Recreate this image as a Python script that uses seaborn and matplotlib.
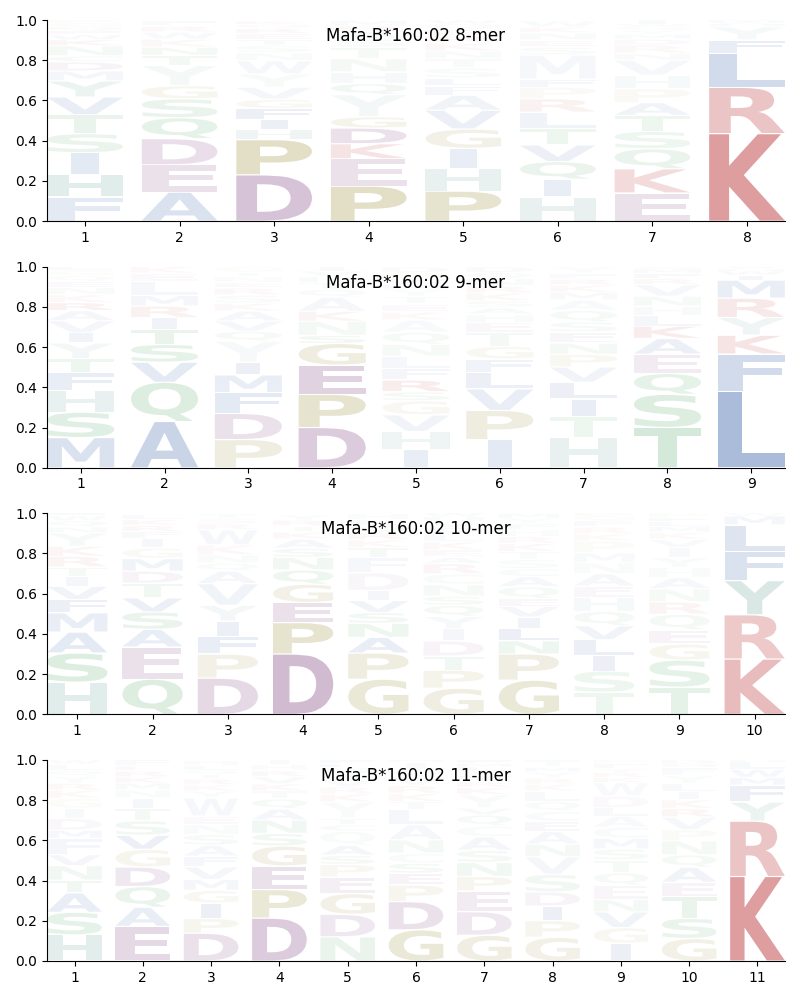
import numpy as np
import matplotlib
matplotlib.use("Agg")
import matplotlib.pyplot as plt
import seaborn as sns
from matplotlib.textpath import TextPath
from matplotlib.patches import PathPatch
from matplotlib.font_manager import FontProperties
from matplotlib.transforms import Affine2D

# ---------------- data (letters listed bottom -> top) ----------------
titles = ["Mafa-B*160:02 8-mer", "Mafa-B*160:02 9-mer",
          "Mafa-B*160:02 10-mer", "Mafa-B*160:02 11-mer"]

letters_8 = ["FHISTVYMDCNKWEQGP", "AEDQSGYTNKWRF", "DPHIFGVYWNSTERQK",
             "PEKDGYQHNTSARM", "PHIGVAFLSTNKREQW", "HIQVTLRPFMSENKW",
             "EKQSTAPHVNRDMYGWI", "KRLFYHWM"]
heights_8 = [
    [.12, .11, .11, .095, .094, .088, .08, .05, .045, .03, .05, .03, .025, .02, .02, .018, .015],
    [.144, .136, .13, .104, .094, .066, .1, .05, .041, .04, .035, .03, .03],
    [.23, .175, .05, .05, .055, .046, .06, .066, .066, .04, .035, .03, .03, .025, .02, .017],
    [.174, .136, .075, .078, .056, .11, .055, .058, .066, .058, .04, .035, .03, .029],
    [.149, .113, .1, .096, .093, .075, .046, .04, .05, .045, .04, .04, .035, .03, .03, .018],
    [.12, .088, .088, .083, .08, .083, .066, .058, .04, .12, .04, .035, .035, .03, .03],
    [.14, .12, .1, .086, .08, .063, .07, .066, .075, .035, .04, .03, .025, .02, .02, .01, .02],
    [.435, .23, .17, .066, .066, .015, .01, .008],
]
alpha_8 = [
    [.15, .2, .15, .12, .12, .12, .12, .06, .08, .05, .06, .05, .04, .04, .04, .03, .03],
    [.2, .2, .22, .15, .12, .1, .07, .07, .06, .04, .04, .04, .03],
    [.4, .35, .1, .1, .1, .08, .06, .05, .05, .04, .04, .04, .04, .04, .03, .03],
    [.35, .2, .15, .2, .12, .08, .08, .06, .06, .05, .04, .04, .04, .03],
    [.3, .15, .12, .15, .1, .08, .06, .05, .04, .04, .04, .04, .04, .03, .03, .03],
    [.15, .12, .12, .1, .1, .08, .08, .06, .05, .05, .04, .04, .04, .03, .03],
    [.2, .2, .12, .1, .1, .08, .06, .06, .05, .04, .04, .04, .03, .03, .03, .03, .03],
    [.55, .33, .25, .12, .06, .04, .03, .03],
]

letters_9 = ["MSHFTYIVARKNEQGL", "AQVSTIRMLEK", "PDFMIYQVAKSRENTG",
             "DPEGSNKAQTHVI", "IHVGSRFLNQAKETYMWPD", "IPVLFGTEHASKRNQD",
             "HTILVPNESQAMKRFY", "TSQEAKLHNVRFMG", "LFKYRMIWHV"]
heights_9 = [
    [.15, .126, .107, .09, .07, .078, .05, .06, .05, .04, .04, .035, .03, .03, .025, .019],
    [.23, .195, .1, .088, .075, .058, .058, .053, .07, .04, .033],
    [.14, .13, .104, .088, .063, .104, .05, .05, .05, .04, .04, .035, .03, .025, .024, .027],
    [.2, .165, .145, .108, .04, .07, .05, .07, .04, .035, .03, .025, .02],
    [.09, .09, .083, .07, .045, .058, .058, .06, .06, .06, .06, .04, .04, .04, .035, .02, .03, .03, .03],
    [.14, .145, .107, .083, .066, .063, .07, .05, .04, .033, .033, .04, .035, .035, .03, .03],
    [.15, .104, .088, .083, .076, .063, .056, .055, .05, .058, .05, .04, .035, .03, .03, .032],
    [.2, .165, .104, .096, .078, .061, .053, .046, .05, .058, .03, .025, .023, .011],
    [.38, .185, .094, .088, .096, .09, .025, .02, .012, .01],
]
alpha_9 = [
    [.2, .18, .15, .12, .1, .08, .08, .06, .06, .08, .04, .04, .04, .03, .03, .03],
    [.3, .2, .15, .15, .12, .08, .08, .06, .05, .04, .04],
    [.2, .2, .15, .12, .1, .06, .05, .05, .05, .04, .04, .04, .04, .03, .03, .03],
    [.35, .3, .3, .2, .08, .06, .06, .05, .04, .04, .04, .03, .03],
    [.12, .1, .08, .08, .06, .1, .06, .05, .05, .05, .04, .04, .04, .04, .03, .03, .03, .03, .03],
    [.15, .2, .12, .1, .08, .08, .06, .05, .04, .04, .04, .04, .04, .04, .03, .03],
    [.15, .1, .12, .1, .08, .08, .06, .06, .05, .05, .04, .04, .04, .04, .03, .03],
    [.25, .2, .15, .12, .1, .1, .06, .05, .05, .05, .04, .04, .03, .03],
    [.47, .25, .15, .1, .12, .12, .06, .04, .03, .03],
]

letters_10 = ["HSAMFVITRKYNQWE", "QEASVTDMGIFRKL", "DPFIYVAQNKWRST",
              "DPEGQNSAKTRY", "GPANSVIDFTKRQLH", "GPTDIYQSNCRAEKLFVHW",
              "GPNLIVEQACSTKRHFYM", "TSILVQHEANMPKRFGD", "TSGEQRNAHYIVKMLFP",
              "KRYFLMW"]
heights_10 = [
    [.16, .145, .104, .096, .066, .066, .05, .046, .053, .05, .066, .03, .03, .026, .012],
    [.175, .16, .088, .086, .07, .073, .06, .063, .053, .046, .035, .03, .03, .025],
    [.18, .12, .086, .078, .078, .108, .063, .04, .04, .05, .075, .03, .025, .023],
    [.3, .156, .1, .091, .071, .063, .045, .046, .035, .03, .03, .025],
    [.175, .13, .078, .07, .053, .06, .05, .088, .075, .05, .04, .035, .035, .03, .03],
    [.13, .09, .07, .075, .061, .061, .055, .046, .058, .053, .05, .033, .036, .04, .035, .035, .03, .025, .02],
    [.17, .13, .066, .06, .058, .053, .038, .06, .05, .04, .045, .04, .04, .035, .035, .03, .025, .025],
    [.11, .105, .078, .078, .07, .071, .071, .055, .061, .055, .05, .058, .035, .035, .03, .027, .011],
    [.135, .135, .08, .07, .078, .061, .066, .055, .05, .05, .05, .04, .035, .03, .025, .02, .02],
    [.275, .22, .17, .146, .13, .046, .013],
]
alpha_10 = [
    [.2, .2, .15, .12, .1, .08, .06, .05, .06, .05, .06, .04, .04, .03, .03],
    [.2, .2, .12, .12, .1, .08, .08, .08, .06, .05, .04, .04, .04, .03],
    [.25, .15, .12, .1, .08, .08, .06, .04, .04, .04, .05, .03, .03, .03],
    [.45, .3, .2, .15, .1, .08, .06, .05, .04, .04, .04, .03],
    [.25, .2, .12, .1, .08, .08, .06, .06, .05, .05, .04, .04, .04, .03, .03],
    [.18, .12, .08, .08, .06, .06, .06, .05, .05, .04, .05, .04, .04, .04, .03, .03, .03, .03, .03],
    [.25, .18, .1, .1, .08, .06, .05, .05, .05, .04, .04, .04, .04, .03, .03, .03, .03, .03],
    [.1, .1, .1, .1, .08, .06, .06, .05, .05, .04, .04, .04, .03, .03, .03, .03, .03],
    [.15, .15, .1, .08, .06, .06, .05, .05, .04, .04, .04, .04, .03, .03, .03, .03, .03],
    [.38, .3, .25, .2, .18, .06, .03],
]

letters_11 = ["HSATNVFMDIGKRYQLW", "EAQDGVSTINMKRLF", "DPIGMVFASNEWYKRTQLH",
              "DPEGSNAQTKVRHI", "NDGEPSAQCTYKRVIHLF", "GDPESCNALTKRVQIM",
              "GDEPNSACQVYKRTILMF", "GPIDSVNAECQLKRYMT", "IGVNEQTSMCALDWKRYFP",
              "GSTEAQNPVRKILYFHD", "KRYFMWLH"]
heights_11 = [
    [.13, .112, .097, .063, .072, .055, .08, .042, .058, .05, .05, .04, .035, .035, .03, .03, .021],
    [.172, .095, .103, .097, .088, .07, .072, .063, .05, .04, .035, .03, .03, .025, .03],
    [.138, .073, .077, .063, .055, .062, .053, .055, .053, .05, .042, .09, .035, .03, .03, .022, .02, .025, .025],
    [.213, .142, .117, .1, .062, .067, .055, .05, .04, .035, .035, .03, .03, .024],
    [.12, .112, .103, .083, .062, .045, .05, .07, .033, .033, .08, .04, .035, .035, .03, .03, .02, .019],
    [.155, .14, .083, .058, .05, .05, .067, .075, .075, .04, .04, .04, .04, .04, .035, .012],
    [.128, .117, .103, .072, .07, .06, .067, .055, .055, .033, .067, .035, .03, .03, .022, .02, .018, .018],
    [.118, .083, .072, .07, .088, .087, .063, .063, .05, .05, .05, .05, .035, .03, .03, .025, .036],
    [.088, .078, .078, .062, .07, .063, .063, .055, .053, .055, .055, .042, .058, .067, .025, .025, .02, .025, .018],
    [.112, .1, .107, .072, .075, .062, .07, .055, .062, .042, .045, .04, .04, .04, .038, .02, .02],
    [.42, .275, .095, .083, .04, .04, .037, .01],
]
alpha_11 = [
    [.18, .15, .12, .08, .08, .06, .06, .05, .05, .04, .04, .04, .04, .03, .03, .03, .03],
    [.25, .12, .12, .15, .1, .1, .08, .06, .05, .04, .04, .04, .04, .03, .03],
    [.2, .1, .1, .08, .06, .06, .05, .05, .05, .04, .04, .05, .03, .03, .03, .03, .03, .03, .03],
    [.35, .25, .2, .15, .08, .08, .06, .05, .04, .04, .04, .04, .03, .03],
    [.12, .15, .15, .1, .08, .06, .06, .04, .04, .04, .04, .04, .03, .03, .03, .03, .03, .03],
    [.25, .2, .1, .08, .06, .04, .06, .05, .05, .04, .04, .04, .03, .03, .03, .03],
    [.18, .15, .12, .1, .08, .06, .06, .04, .05, .04, .04, .04, .03, .03, .03, .03, .03, .03],
    [.15, .1, .1, .08, .08, .06, .06, .05, .05, .04, .04, .04, .03, .03, .03, .03, .03],
    [.1, .08, .08, .06, .06, .05, .05, .05, .05, .04, .04, .04, .04, .04, .03, .03, .03, .03, .03],
    [.15, .12, .12, .08, .08, .06, .06, .05, .05, .05, .04, .04, .04, .03, .03, .03, .03],
    [.55, .33, .12, .1, .05, .05, .04, .03],
]

# amino-acid colour groups
group_colors = {
    "KR": "#c44e52",
    "AVLIMFW": "#4c72b0",
    "DE": "#9b6a9b",
    "HY": "#69a59b",
    "PG": "#afa55f",
    "STNQC": "#55a868",
}
aa_color = {aa: col for grp, col in group_colors.items() for aa in grp}

# ---------------- drawing ----------------
plt.rcParams["font.family"] = ["DejaVu Sans"]

fp = FontProperties(family="DejaVu Sans", weight="bold")
_glyphs = {}


def glyph(c):
    if c not in _glyphs:
        _glyphs[c] = TextPath((0, 0), c, size=1, prop=fp)
    return _glyphs[c]


def draw_letter(ax, c, x, y0, h, color, alpha, width=0.8):
    p = glyph(c)
    bb = p.get_extents()
    w = width * 0.36 if c == "I" else width
    pad = min(0.003, h * 0.1)
    hh = h - 2 * pad
    t = (Affine2D().translate(-bb.x0, -bb.y0)
         .scale(w / bb.width, hh / bb.height)
         .translate(x - w / 2, y0 + pad))
    ax.add_patch(PathPatch(t.transform_path(p), facecolor=color,
                           edgecolor="none", alpha=alpha, lw=0))


panels = [(letters_8, heights_8, alpha_8), (letters_9, heights_9, alpha_9),
          (letters_10, heights_10, alpha_10), (letters_11, heights_11, alpha_11)]

fig, axes = plt.subplots(4, 1, figsize=(8, 10), dpi=100)
fig.subplots_adjust(left=0.059, right=0.981, top=0.98, bottom=0.039, hspace=0.226)

for ax, title, (letters, heights, alphas) in zip(axes, titles, panels):
    n = len(letters)
    for i, (lets, hs, als) in enumerate(zip(letters, heights, alphas)):
        x = i + 1
        y = 0.0
        for c, h, a in zip(lets, hs, als):
            draw_letter(ax, c, x, y, h, aa_color[c], a)
            y += h
    ax.set_xlim(0.6, n + 0.4)
    ax.set_ylim(0, 1)
    ax.set_xticks(np.arange(1, n + 1))
    ax.set_xticklabels([str(k) for k in range(1, n + 1)])
    ax.set_yticks([0, 0.2, 0.4, 0.6, 0.8, 1.0])
    ax.text(0.5, 0.92, title, transform=ax.transAxes, ha="center",
            va="center", fontsize=12)
    sns.despine(ax=ax)

fig.savefig("out.png", dpi=100)
